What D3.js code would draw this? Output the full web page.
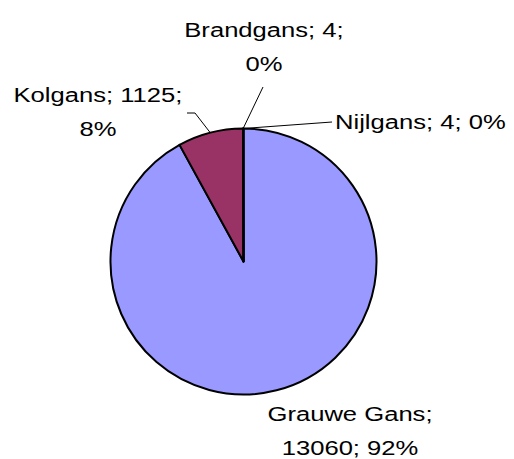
<!DOCTYPE html>
<html>
<head>
<meta charset="utf-8">
<script src="https://cdn.jsdelivr.net/npm/d3@7"></script>
<style>
  body { margin: 0; background: #fff; }
  text { font-family: "Liberation Sans", Arial, sans-serif; font-size: 21px; fill: #000; }
</style>
</head>
<body>
<svg id="chart" width="514" height="459"></svg>
<script>
// data
const categories = ["Grauwe Gans", "Kolgans", "Brandgans", "Nijlgans"];
const counts = [13060, 1125, 4, 4];
const percentLabels = ["92%", "8%", "0%", "0%"];
const colors = ["#9999FF", "#993366", "#FFFFCC", "#CCFFFF"];

const width = 514, height = 459;
const cx = 243.5, cy = 261.5, r = 133;
const stretch = 1.22; // labels look horizontally stretched in the original

const svg = d3.select("#chart");
const g = svg.append("g").attr("transform", `translate(${cx},${cy})`);

const data = categories.map((c, i) => ({ name: c, value: counts[i], pct: percentLabels[i], color: colors[i] }));

const pie = d3.pie().sort(null).value(d => d.value);
const arcs = pie(data);
const arc = d3.arc().innerRadius(0).outerRadius(r);

g.selectAll("path.slice")
  .data(arcs)
  .enter()
  .append("path")
  .attr("class", "slice")
  .attr("d", arc)
  .attr("fill", d => d.data.color)
  .attr("stroke", "#000")
  .attr("stroke-width", 2)
  .attr("stroke-linejoin", "round");

// label layout (relative to chart, not data)
const labelLayout = {
  "Grauwe Gans": { x: 350, y: 421, lines: d => [d.name + ";", d.value + "; " + d.pct], leader: null },
  "Kolgans": { x: 98, y: 102, lines: d => [d.name + "; " + d.value + ";", d.pct], leader: [[187, 113], [195, 113]] },
  "Brandgans": { x: 264, y: 37, lines: d => [d.name + "; " + d.value + ";", d.pct], leader: [[263, 87]] },
  "Nijlgans": { x: 335, y: 129, anchor: "start", lines: d => [d.name + "; " + d.value + "; " + d.pct], leader: [[332, 122]] }
};

function edgePoint(d) {
  const a = (d.startAngle + d.endAngle) / 2;
  return [cx + r * Math.sin(a), cy - r * Math.cos(a)];
}

// leader lines
arcs.forEach(d => {
  const L = labelLayout[d.data.name];
  if (!L.leader) return;
  const pts = L.leader.concat([edgePoint(d)]);
  svg.append("path")
    .attr("d", d3.line()(pts))
    .attr("fill", "none")
    .attr("stroke", "#000")
    .attr("stroke-width", 1);
});

// labels
arcs.forEach(d => {
  const L = labelLayout[d.data.name];
  L.lines(d.data).forEach((t, i) => {
    svg.append("text")
      .attr("transform", `translate(${L.x},${L.y + i * 34}) scale(${stretch},1)`)
      .attr("text-anchor", L.anchor || "middle")
      .text(t);
  });
});
</script>
</body>
</html>
